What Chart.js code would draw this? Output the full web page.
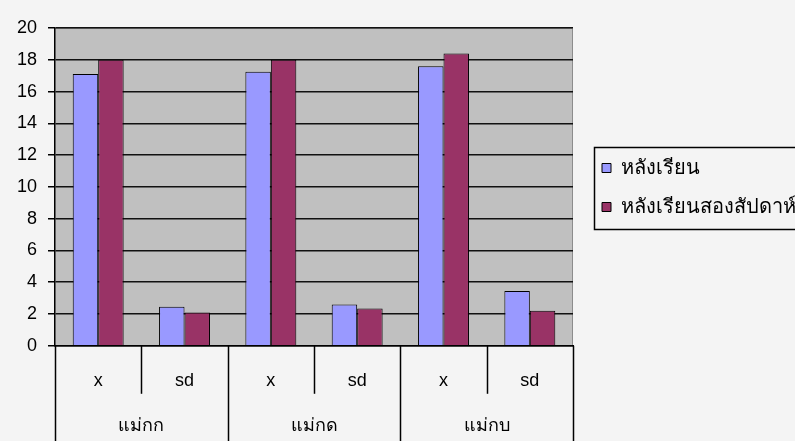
<!DOCTYPE html>
<html>
<head>
<meta charset="utf-8">
<script src="https://cdn.jsdelivr.net/npm/chart.js@4"></script>
<style>
  html, body { margin: 0; padding: 0; background: #f4f4f4; }
  #wrap { width: 795px; height: 441px; }
</style>
</head>
<body>
<div id="wrap"><canvas id="myChart"></canvas></div>
<script>
const categories = ['x', 'sd', 'x', 'sd', 'x', 'sd'];
const groups = ['แม่กก', 'แม่กด', 'แม่กบ'];
const afterLesson = [17.1, 2.45, 17.25, 2.6, 17.6, 3.45];
const afterTwoWeeks = [18.0, 2.1, 18.0, 2.35, 18.4, 2.2];
const yTicks = [0, 2, 4, 6, 8, 10, 12, 14, 16, 18, 20];

const FONT = "'Liberation Sans', 'Noto Sans', 'DejaVu Sans', sans-serif";
const LEGEND_WIDTH = 222;

// gray plot area, group separators under the axis, box round the legend
const excelLook = {
    id: 'excelLook',
    afterInit(chart) {
        const lg = chart.legend;
        const fit = lg.fit;
        lg.fit = function () {
            fit.call(this);
            this.width = LEGEND_WIDTH;
        };
    },
    afterLayout(chart) {
        const lg = chart.legend;
        lg.left += 10;
        lg.top -= 45;
        lg.bottom -= 45;
    },
    beforeDraw(chart) {
        const a = chart.chartArea;
        const c = chart.ctx;
        c.save();
        c.fillStyle = '#c0c0c0';
        c.fillRect(a.left, a.top, a.right - a.left, a.bottom - a.top);
        c.strokeStyle = '#8c8c8c';
        c.lineWidth = 1;
        c.beginPath();
        c.moveTo(a.left, a.top + 0.5);
        c.lineTo(a.right - 0.5, a.top + 0.5);
        c.lineTo(a.right - 0.5, a.bottom);
        c.stroke();
        c.restore();
    },
    afterDraw(chart) {
        const c = chart.ctx;
        const xs = chart.scales.x;
        const a = chart.chartArea;
        const step = (a.right - a.left) / categories.length;
        c.save();
        c.strokeStyle = '#000';
        c.lineWidth = 1.5;
        for (let i = 0; i <= categories.length; i++) {
            const px = Math.round(xs.getPixelForValue(0) - step / 2 + i * step) + 0.5;
            c.beginPath();
            c.moveTo(px, a.bottom);
            c.lineTo(px, i % 2 === 0 ? chart.height : a.bottom + 48);
            c.stroke();
        }
        const boxes = chart.legend.legendHitBoxes;
        if (boxes.length) {
            const first = boxes[0];
            const last = boxes[boxes.length - 1];
            const top = Math.round(first.top) - 11;
            const bottom = Math.round(last.top + last.height) + 12;
            const left = Math.round(first.left) - 8;
            c.lineWidth = 1.5;
            c.strokeRect(left + 0.5, top + 0.5, chart.width, bottom - top);
        }
        c.restore();
    }
};

new Chart(document.getElementById('myChart'), {
    type: 'bar',
    data: {
        labels: categories,
        datasets: [
            { label: 'หลังเรียน', data: afterLesson, backgroundColor: '#9999ff', borderColor: '#000', borderWidth: 1 },
            { label: 'หลังเรียนสองสัปดาห์', data: afterTwoWeeks, backgroundColor: '#993366', borderColor: '#000', borderWidth: 1 }
        ]
    },
    options: {
        responsive: true,
        maintainAspectRatio: false,
        animation: false,
        categoryPercentage: 0.59,
        barPercentage: 1,
        layout: { padding: { top: 28, left: 6, right: 0, bottom: 4 } },
        plugins: {
            tooltip: { enabled: false },
            legend: {
                position: 'right',
                align: 'center',
                labels: {
                    font: { family: FONT, size: 20 },
                    color: '#000',
                    boxWidth: 9,
                    boxHeight: 9,
                    padding: 19,
                    useBorderRadius: false
                }
            }
        },
        scales: {
            y: {
                min: 0,
                max: 20,
                afterBuildTicks: s => { s.ticks = yTicks.map(v => ({ value: v })); },
                ticks: { font: { family: FONT, size: 18 }, color: '#000', padding: 11 },
                grid: { color: '#111', lineWidth: 1.5, tickLength: 7, tickColor: '#000' },
                border: { color: '#000', width: 1.5 }
            },
            x: {
                ticks: { font: { family: FONT, size: 18 }, color: '#000', padding: 16 },
                grid: { display: false },
                border: { color: '#000', width: 1.5 }
            },
            x2: {
                type: 'category',
                labels: groups,
                position: 'bottom',
                offset: true,
                ticks: { font: { family: FONT, size: 18 }, color: '#000', padding: 0 },
                grid: { display: false },
                border: { display: false }
            }
        }
    },
    plugins: [excelLook]
});
</script>
</body>
</html>
